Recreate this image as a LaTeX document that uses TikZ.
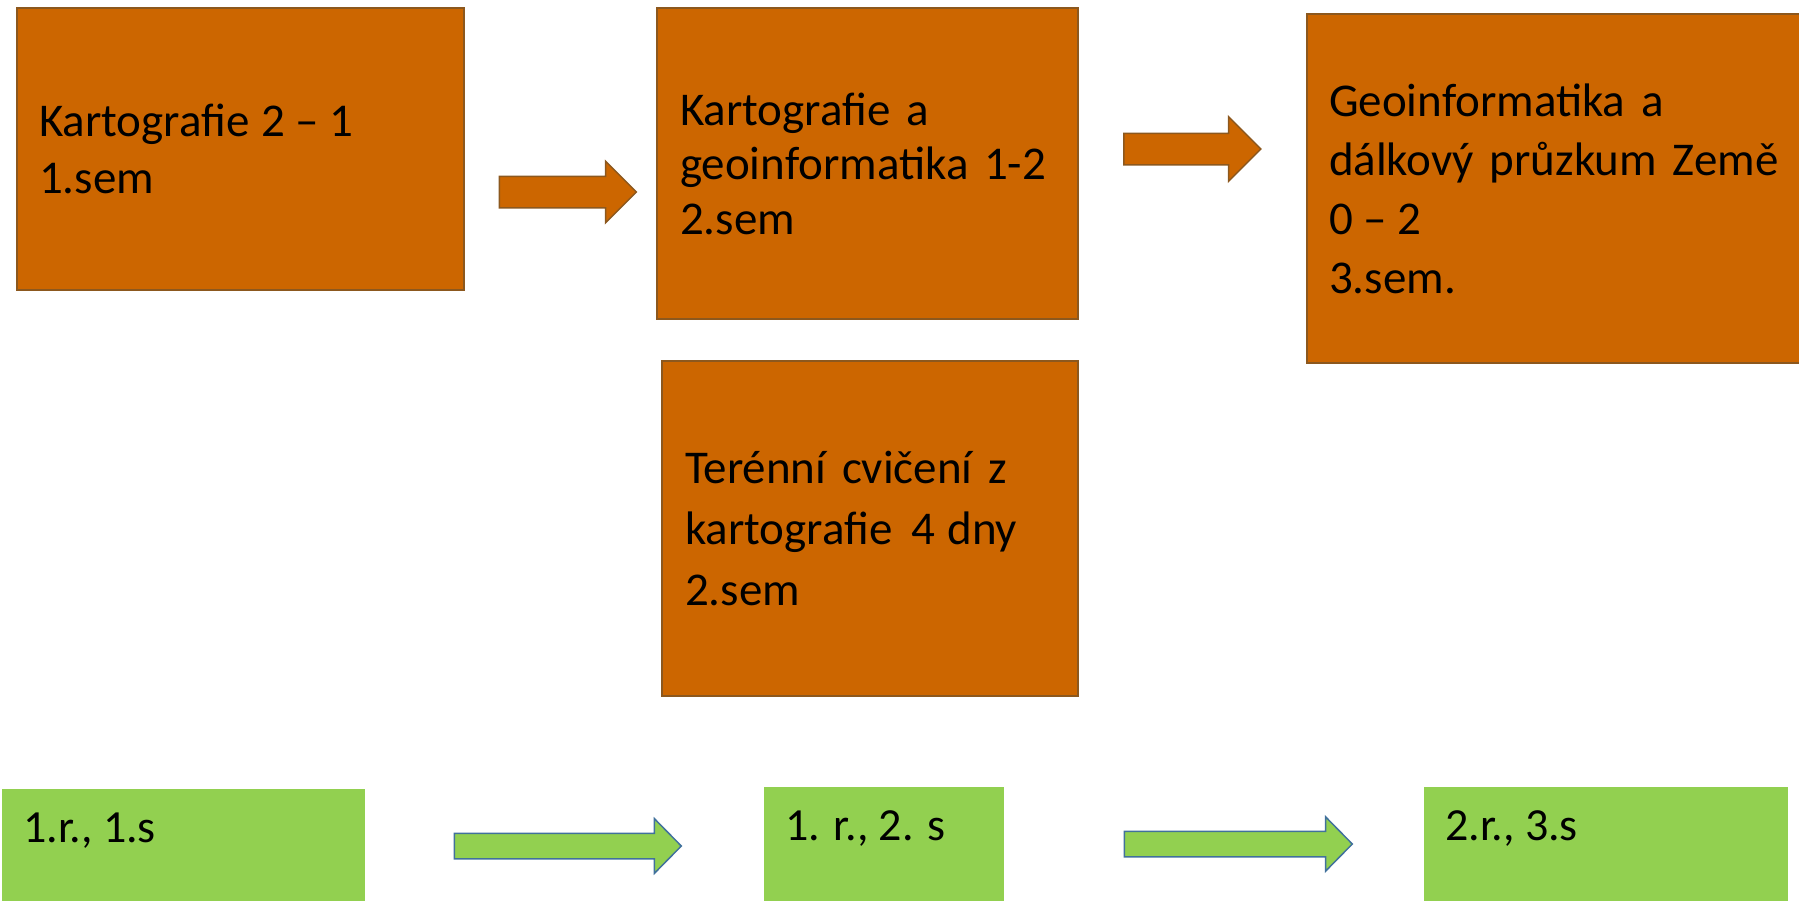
\documentclass[tikz,border=0pt]{standalone}
\usepackage{fontspec}
\setmainfont{Carlito}
\usetikzlibrary{shapes.arrows,calc}
\definecolor{ofill}{RGB}{204,102,0}
\definecolor{oline}{RGB}{140,88,30}
\definecolor{gfill}{RGB}{146,208,80}
\definecolor{gline}{RGB}{65,113,156}
\newcommand\bigfont[1]{\fontsize{47}{#1}\selectfont}
\newcommand\greenfont{\fontsize{46}{55}\selectfont}
\newcommand\myspc{\hspace{12pt}}
\newcommand\mydsh{\hspace{10.5pt}–\hspace{10.5pt}}
\tikzset{
  obox/.style={rectangle,draw=oline,line width=1.5pt,fill=ofill,align=left,
    inner xsep=22pt,inner ysep=0pt,font=\bigfont{57},anchor=center},
  gbox/.style={rectangle,fill=gfill,draw=none,inner sep=0pt,anchor=north west},
  glabel/.style={anchor=west,inner sep=0pt,font=\greenfont},
  oarrow/.style={single arrow,draw=oline,fill=ofill,line width=1.5pt,inner xsep=0pt,
    inner ysep=15pt,single arrow head extend=15pt,single arrow tip angle=90,
    minimum height=137pt,anchor=center,outer sep=0pt},
  garrow/.style={single arrow,draw=gline,fill=gfill,line width=1.5pt,inner xsep=0pt,
    inner ysep=12pt,single arrow head extend=14.5pt,single arrow tip angle=91,
    minimum height=227pt,anchor=center,outer sep=0pt}
}
\begin{document}
\begin{tikzpicture}[x=1pt,y=-1pt]
\useasboundingbox (0,0) rectangle (1799,900);
\clip (0,0) rectangle (1799,900);
% orange boxes
\node[obox,minimum width=447pt,minimum height=282pt,text width=403pt] (k1) at (240.5,149) {Kartografie\myspc 2\mydsh 1\\1.sem};
\node[obox,minimum width=421pt,minimum height=311pt,text width=375pt,font=\bigfont{54.5}] (k2) at (867.5,163.5) {Kartografie a\\geoinformatika 1-2\\2.sem};
\node[obox,minimum width=416pt,minimum height=335pt,text width=370pt,font=\bigfont{61}] (t) at (870,528.5) {Terénní cvičení z\\kartografie\hspace{19pt}4\myspc dny\\2.sem};
\node[obox,minimum width=498pt,minimum height=349pt,text width=454pt,font=\bigfont{59}] (g3) at (1556,188.5) {Geoinformatika a\\dálkový průzkum Země\\0\mydsh 2\\3.sem.};
% orange arrows
\node[oarrow] (a1) at (560,192) {};
\node[oarrow,minimum width=63pt,single arrow head extend=16.5pt] (a2) at (1184.5,149) {};
% green boxes
\node[gbox,minimum width=363pt,minimum height=120pt] (s1) at (2,789) {};
\node[gbox,minimum width=240pt,minimum height=120pt] (s2) at (764,787) {};
\node[gbox,minimum width=364pt,minimum height=120pt] (s3) at (1424,787) {};
\node[glabel] (l1) at ($(s1.north west)+(21,42)$) {1.r., 1.s};
\node[glabel] (l2) at ($(s2.north west)+(21,42)$) {1. r., 2. s};
\node[glabel] (l3) at ($(s3.north west)+(21,42)$) {2.r., 3.s};
% green arrows
\node[garrow] (b1) at (561.5,846) {};
\node[garrow,minimum height=228pt] (b2) at (1232,844) {};
\end{tikzpicture}
\end{document}
